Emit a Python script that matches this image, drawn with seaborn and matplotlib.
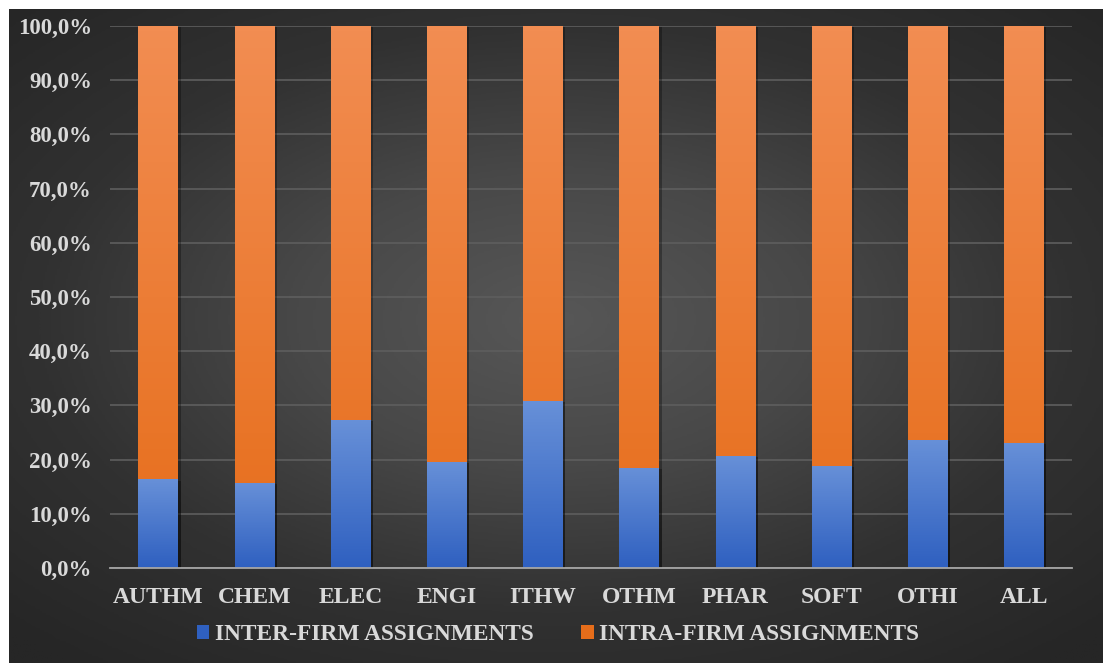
import numpy as np
import pandas as pd
import matplotlib
matplotlib.use('Agg')
import matplotlib.pyplot as plt
import matplotlib.patheffects as pe
from matplotlib.colors import LinearSegmentedColormap
from matplotlib.patches import Patch
from matplotlib.ticker import FuncFormatter, MultipleLocator
import seaborn as sns

# ============================================================
# DATA
# ============================================================

categories = ['AUTHM', 'CHEM', 'ELEC', 'ENGI', 'ITHW', 'OTHM', 'PHAR', 'SOFT', 'OTHI', 'ALL']
inter_firm = [16.4, 15.7, 27.3, 19.6, 30.9, 18.5, 20.7, 18.9, 23.7, 23.1]
intra_firm = [83.6, 84.3, 72.7, 80.4, 69.1, 81.5, 79.3, 81.1, 76.3, 76.9]
series_labels = ['INTER-FIRM ASSIGNMENTS', 'INTRA-FIRM ASSIGNMENTS']

df = pd.DataFrame({'category': categories, 'inter': inter_firm, 'intra': intra_firm})
df['total'] = df['inter'] + df['intra']

BLUE_TOP, BLUE_BOT = '#6790d8', '#2f60c0'
ORANGE_TOP, ORANGE_BOT = '#f28d52', '#e66d1a'
TEXT = '#d9d9d9'

sns.set_theme(style='dark')
plt.rcParams['font.family'] = ['Liberation Serif', 'DejaVu Serif']
plt.rcParams['font.weight'] = 'bold'

fig = plt.figure(figsize=(11.03, 6.63), dpi=100)
fig.patch.set_facecolor('white')

# ============================================================
# BACKGROUND (radial dark gradient)
# ============================================================

bg = fig.add_axes([9 / 1103, 0, 1 - 9 / 1103, 1 - 9 / 663], zorder=-1)
yy, xx = np.mgrid[-1:1:300j, -1:1:500j]
r = np.sqrt((xx * 0.95) ** 2 + ((yy + 0.05) * 1.0) ** 2)
bg_cmap = LinearSegmentedColormap.from_list('bg', ['#575757', '#484848', '#313131', '#262626'])
bg.imshow(np.clip(r / 1.35, 0, 1), cmap=bg_cmap, vmin=0, vmax=1, aspect='auto',
          extent=[0, 1, 0, 1])
bg.set_axis_off()

# ============================================================
# BARS
# ============================================================

ax = fig.add_axes([110 / 1103, (663 - 568) / 663, (1072 - 110) / 1103, (568 - 26) / 663])
ax.set_facecolor('none')

sns.barplot(data=df, x='category', y='total', color=ORANGE_BOT, width=0.41,
            saturation=1, linewidth=0, ax=ax, zorder=3)
sns.barplot(data=df, x='category', y='inter', color=BLUE_BOT, width=0.41,
            saturation=1, linewidth=0, ax=ax, zorder=4)


def gradient_fill(patch, top, bottom, zorder):
    x0, y0 = patch.get_x(), patch.get_y()
    w, h = patch.get_width(), patch.get_height()
    cmap = LinearSegmentedColormap.from_list('g', [bottom, top])
    grad = np.linspace(0, 1, 100).reshape(-1, 1)
    im = ax.imshow(grad, cmap=cmap, aspect='auto', origin='lower',
                   extent=[x0, x0 + w, y0, y0 + h], zorder=zorder)
    im.set_clip_path(patch)


n = len(categories)
for i, p in enumerate(ax.patches):
    p.set_edgecolor('none')
    p.set_path_effects([pe.SimplePatchShadow(offset=(2, -1), alpha=0.3, shadow_rgbFace='black'),
                        pe.Normal()])
    if i < n:
        gradient_fill(p, ORANGE_TOP, ORANGE_BOT, 3.5)
    else:
        gradient_fill(p, BLUE_TOP, BLUE_BOT, 4.5)

ax.set_xlim(-0.5, n - 0.5)
ax.set_ylim(0, 100)
ax.yaxis.set_major_locator(MultipleLocator(10))
ax.yaxis.set_major_formatter(FuncFormatter(lambda v, _: f'{v:.1f}%'.replace('.', ',')))
ax.grid(axis='y', color='#5e5e5e', linewidth=1.2, zorder=0)
ax.grid(axis='x', visible=False)
ax.set_xlabel('')
ax.set_ylabel('')

for s in ['top', 'right', 'left']:
    ax.spines[s].set_visible(False)
ax.spines['bottom'].set_color('#a6a6a6')
ax.spines['bottom'].set_linewidth(1.3)
ax.spines['bottom'].set_zorder(6)

ax.tick_params(axis='x', colors=TEXT, labelsize=17, length=0, pad=14)
ax.tick_params(axis='y', colors=TEXT, labelsize=16.5, length=0, pad=13)
for lbl in ax.get_xticklabels() + ax.get_yticklabels():
    lbl.set_fontweight('bold')
    lbl.set_color(TEXT)

# ============================================================
# LEGEND
# ============================================================

handles = [Patch(facecolor=BLUE_BOT, edgecolor='none'),
           Patch(facecolor=ORANGE_BOT, edgecolor='none')]
leg = fig.legend(handles, series_labels, loc='center', bbox_to_anchor=(558 / 1103, 28 / 663),
                 ncol=2, frameon=False, fontsize=16.8, handlelength=0.55, handleheight=0.55,
                 handletextpad=0.25, columnspacing=2.0)
for t in leg.get_texts():
    t.set_color(TEXT)
    t.set_fontweight('bold')

plt.savefig('out.png', dpi=100, facecolor=fig.get_facecolor())
plt.close()
print("saved out.png")
